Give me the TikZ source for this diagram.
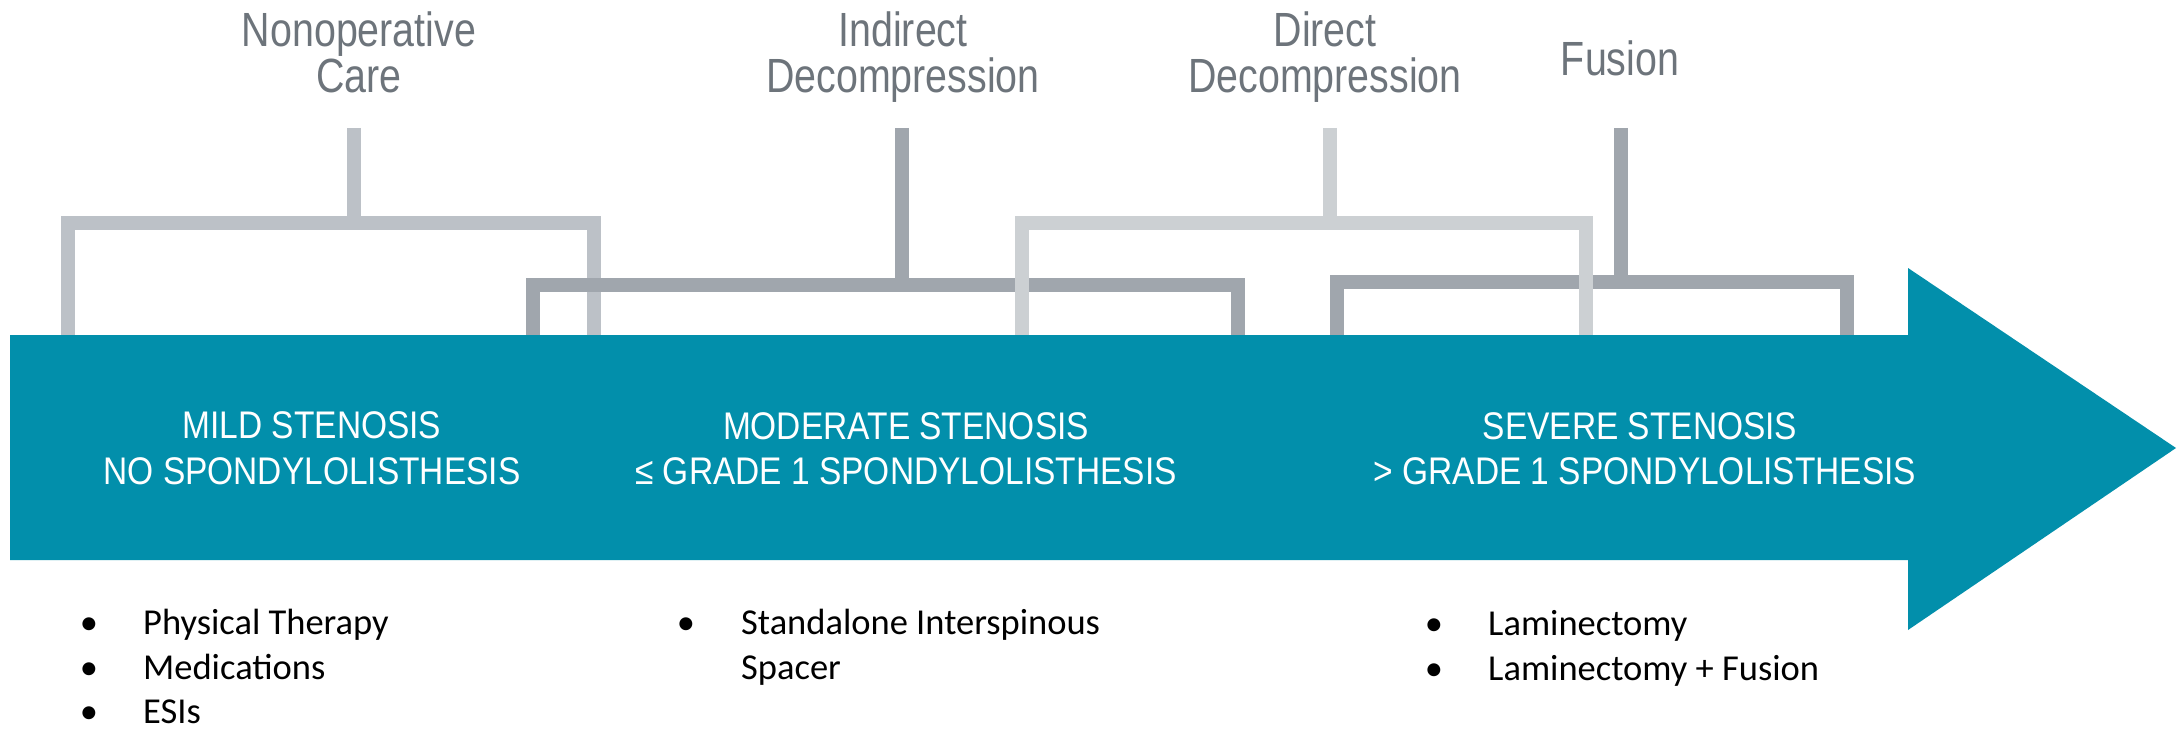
\documentclass[tikz,border=0pt]{standalone}
\usepackage{fontspec}
\newfontfamily\topfont[FakeStretch=0.82]{Liberation Sans}
\newfontfamily\arrfont[FakeStretch=0.87]{Liberation Sans}
\newfontfamily\bulfont{Carlito}
\definecolor{teal}{HTML}{028FAB}
\definecolor{labgray}{HTML}{6D747B}
\definecolor{brA}{HTML}{BCC1C7}
\definecolor{brB}{HTML}{A0A6AD}
\definecolor{brC}{HTML}{CCD0D3}
\tikzset{
  toplab/.style={inner sep=0pt, anchor=base, text=labgray, font=\topfont\fontsize{48}{52}\selectfont},
  arrlab/.style={inner sep=0pt, anchor=base, text=white, font=\arrfont\fontsize{38.5}{44}\selectfont},
  bul/.style={inner sep=0pt, anchor=base, text=black, font=\bulfont\fontsize{36.5}{44}\selectfont},
  item/.style={inner sep=0pt, anchor=base west, text=black, font=\bulfont\fontsize{36.5}{44}\selectfont},
  bracket/.style={line width=14pt, line cap=butt, line join=miter},
}
\begin{document}
\begin{tikzpicture}[x=1pt, y=-1pt]
\useasboundingbox (0,0) rectangle (2179,730);
% brackets
\draw[bracket, brA] (68,337) -- (68,223) -- (594,223) -- (594,337);
\draw[bracket, brA] (354,128) -- (354,223);
\draw[bracket, brB] (533,337) -- (533,284.5) -- (1238,284.5) -- (1238,337);
\draw[bracket, brB] (902,128) -- (902,284.5);
\draw[bracket, brB] (1337,337) -- (1337,282) -- (1847,282) -- (1847,337);
\draw[bracket, brB] (1621,128) -- (1621,282);
\draw[bracket, brC] (1022,337) -- (1022,223) -- (1586,223) -- (1586,337);
\draw[bracket, brC] (1330,128) -- (1330,223);
% arrow
\fill[teal] (10,335) -- (1908,335) -- (1908,268) -- (2176,448) -- (1908,630) -- (1908,560) -- (10,560) -- cycle;
% top labels
\node[toplab] (nonop1) at (359,47) {Nonoperative};
\node[toplab] (nonop2) at (359,93) {Care};
\node[toplab] (ind1) at (903,47) {Indirect};
\node[toplab] (ind2) at (903,93) {Decompression};
\node[toplab] (dir1) at (1325,47) {Direct};
\node[toplab] (dir2) at (1325,93) {Decompression};
\node[toplab] (fus) at (1620,76) {Fusion};
% arrow labels
\node[arrlab] (mild1) at (312,438) {MILD STENOSIS};
\node[arrlab] (mild2) at (312,484) {NO SPONDYLOLISTHESIS};
\node[arrlab] (mod1) at (906,439) {MODERATE STENOSIS};
\node[arrlab] (mod2) at (906,484) {≤ GRADE 1 SPONDYLOLISTHESIS};
\node[arrlab] (sev1) at (1640,439) {SEVERE STENOSIS};
\node[arrlab] (sev2) at (1645,484) {> GRADE 1 SPONDYLOLISTHESIS};
% bullets column 1
\node[bul] (b11) at (89,634) {•};
\node[item] (t11) at (143,634) {Physical Therapy};
\node[bul] (b12) at (89,679) {•};
\node[item] (t12) at (143,679) {Medications};
\node[bul] (b13) at (89,723) {•};
\node[item] (t13) at (143,723) {ESIs};
% column 2
\node[bul] (b21) at (686,634) {•};
\node[item] (t21) at (741,634) {Standalone Interspinous};
\node[item] (t22) at (741,679) {Spacer};
% column 3
\node[bul] (b31) at (1434,635) {•};
\node[item] (t31) at (1488,635) {Laminectomy};
\node[bul] (b32) at (1434,680) {•};
\node[item] (t32) at (1488,680) {Laminectomy + Fusion};
\end{tikzpicture}
\end{document}
